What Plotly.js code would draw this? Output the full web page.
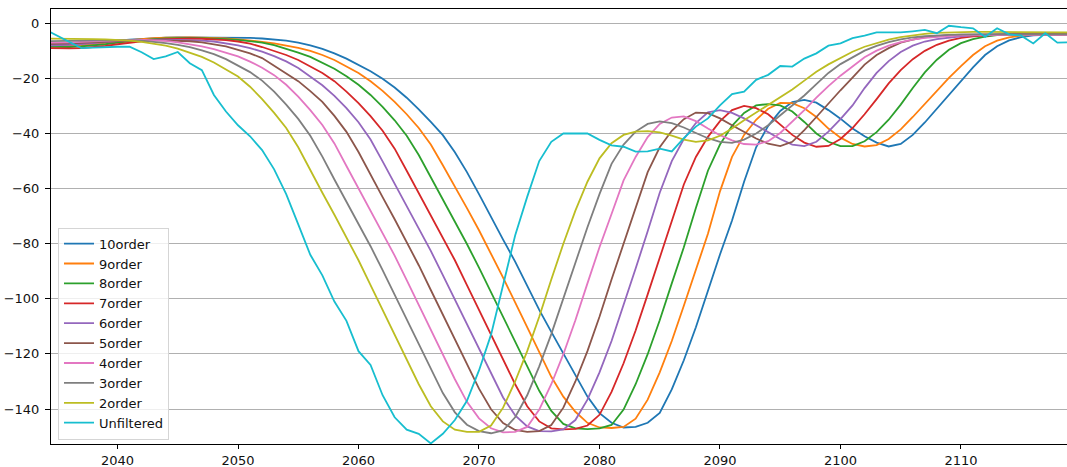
<!DOCTYPE html>
<html>
<head>
<meta charset="utf-8">
<script src="https://cdn.plot.ly/plotly-3.0.1.min.js"></script>
<style>html,body{margin:0;padding:0;background:#fff;}#chart{width:1067px;height:467px;}</style>
</head>
<body>
<div id="chart"></div>
<script>
const xs = [2034,2035,2036,2037,2038,2039,2040,2041,2042,2043,
2044,2045,2046,2047,2048,2049,2050,2051,2052,2053,
2054,2055,2056,2057,2058,2059,2060,2061,2062,2063,
2064,2065,2066,2067,2068,2069,2070,2071,2072,2073,
2074,2075,2076,2077,2078,2079,2080,2081,2082,2083,
2084,2085,2086,2087,2088,2089,2090,2091,2092,2093,
2094,2095,2096,2097,2098,2099,2100,2101,2102,2103,
2104,2105,2106,2107,2108,2109,2110,2111,2112,2113,
2114,2115,2116,2117,2118,2119];

const order10 = [-7.5,-7.6,-7.6,-7.4,-7.1,-6.7,-6.3,-5.9,-5.6,-5.4,
-5.2,-5.1,-5.1,-5.1,-5.1,-5.1,-5.2,-5.3,-5.5,-5.8,
-6.3,-7,-8,-9.3,-10.9,-12.8,-15,-17.4,-20.1,-23.3,
-27,-31.2,-35.8,-40.6,-46.8,-54,-62,-70.5,-78.5,-86.5,
-95.5,-104,-112,-120,-128,-135.5,-141.5,-145,-146.7,-146.5,
-145,-141.4,-132.9,-122.3,-110.3,-97.1,-83.9,-71.6,-57.5,-45,
-37.2,-31.8,-28.6,-27.8,-28.8,-31.5,-34.6,-38.2,-41,-43.3,
-44.7,-43.8,-40.5,-36,-31,-26.2,-21.2,-16,-11.5,-8.3,
-6.2,-5,-4.4,-4.1,-4,-4];

const order9 = [-8,-8.2,-8.2,-8,-7.6,-7.1,-6.6,-6.1,-5.7,-5.4,
-5.2,-5.1,-5.1,-5.2,-5.3,-5.5,-5.8,-6.2,-6.7,-7.3,
-8,-8.9,-10,-11.5,-13.3,-15.5,-18,-21,-24.5,-28.5,
-33,-38,-44,-51.5,-59.1,-67.1,-75.1,-83.5,-92.3,-101.3,
-110.3,-119.3,-128.3,-135.5,-141,-145,-146.7,-146.9,-146.5,-143.5,
-136.6,-126.7,-115.3,-102.5,-89.1,-76.4,-61,-48.5,-40.5,-35,
-31,-28.9,-29,-30.8,-34,-38.2,-41.5,-43.8,-44.7,-44.2,
-42,-38.5,-34,-29.3,-24.5,-19.8,-15.5,-11.5,-8.3,-6.3,
-5.1,-4.5,-4.2,-4.1,-4,-4];

const order8 = [-8.5,-8.6,-8.6,-8.4,-8.1,-7.6,-7,-6.5,-6,-5.7,
-5.5,-5.3,-5.3,-5.4,-5.5,-5.7,-6,-6.4,-7,-7.9,
-9.2,-10.6,-12.2,-14.2,-16.5,-19.2,-22.3,-26,-30.3,-35.2,
-40.8,-47.8,-55.9,-63.9,-71.9,-80.1,-88.7,-97.7,-106.7,-115.7,
-124.7,-133.4,-140.7,-145.4,-147,-147.3,-147,-145.8,-140.2,-131,
-120.1,-107.8,-94.4,-81.3,-67,-53.5,-44,-37.2,-32.5,-29.8,
-29.3,-29.8,-32,-35.8,-40,-43,-44.6,-44.6,-42.8,-39.5,
-35,-29.5,-23.5,-17.8,-13.2,-9.6,-7.2,-5.7,-4.8,-4.3,
-4.1,-4,-4,-4,-4,-4];

const order7 = [-9,-9.1,-9.1,-9,-8.7,-8.2,-7.6,-7,-6.4,-6,
-5.7,-5.5,-5.5,-5.6,-5.8,-6.1,-6.6,-7.4,-8.6,-10,
-11.5,-13.3,-15.5,-18,-21,-24.8,-29,-33.7,-39,-45.5,
-53.5,-61.5,-69.5,-77.5,-86,-95,-104,-113,-122,-131,
-139,-144.5,-147,-147.4,-147.2,-146,-142.1,-133.8,-123.4,-111.5,
-98.4,-85.2,-72.5,-58.5,-48.5,-41.2,-35.5,-31.5,-30,-30.8,
-33,-36.8,-40.5,-43.3,-44.8,-44.5,-42,-38,-33,-27.5,
-21.8,-17,-13,-10,-7.8,-6.3,-5.3,-4.7,-4.4,-4.2,
-4.1,-4.1,-4.1,-4.1,-4.1,-4.1];

const order6 = [-8,-8,-7.8,-7.5,-7.1,-6.7,-6.4,-6.1,-6,-5.9,
-5.9,-6,-6.1,-6.3,-6.6,-7.2,-8,-9,-10.3,-11.9,
-13.8,-16.2,-19.2,-22.5,-26.3,-30.8,-35.9,-42.2,-50.1,-58.3,
-66.3,-74.3,-82.6,-91.4,-100.4,-109.4,-118.4,-127.4,-135.8,-142.3,
-146.3,-148,-148.1,-147.4,-144,-136.6,-126.7,-115.3,-102.5,-89,
-75.5,-61.5,-50,-42,-36.2,-32.3,-31.5,-32.5,-34.5,-37,
-39.8,-42,-44,-44.6,-43,-39.3,-34.8,-29.8,-23.5,-18,
-13.7,-10.4,-8.1,-6.6,-5.7,-5.1,-4.7,-4.4,-4.2,-4.1,
-4,-4,-4,-4,-4,-4];

const order5 = [-7.5,-7.5,-7.3,-7.1,-6.9,-6.6,-6.4,-6.2,-6.1,-6.1,
-6.2,-6.3,-6.5,-6.9,-7.6,-8.4,-9.6,-10.9,-12.6,-15.3,
-18,-21,-24.6,-28.5,-33.6,-39.4,-46.7,-55.1,-63.1,-71.1,
-79.2,-87.8,-96.8,-105.8,-114.8,-123.8,-132.6,-140.1,-145.1,-147.6,
-148.3,-148,-145.8,-139.5,-130,-119,-106.5,-93,-80,-66.5,
-54,-45,-39,-34.8,-32.4,-32.6,-34.5,-37,-39.5,-41.8,
-43.7,-44.6,-43,-38.8,-34,-29,-24.3,-19.7,-15,-11.5,
-9,-7,-5.9,-5.1,-4.6,-4.3,-4.1,-4,-3.9,-3.9,
-3.9,-3.9,-3.9,-3.9,-3.9,-3.9];

const order4 = [-7,-7,-6.9,-6.7,-6.5,-6.3,-6.1,-6,-6,-6.1,
-6.4,-6.9,-7.6,-8.4,-9.4,-10.6,-12,-13.9,-16.1,-18.8,
-22.3,-26.6,-31.5,-36.9,-43.6,-51.8,-59.9,-67.9,-75.9,-84.3,
-93.2,-102.2,-111.2,-120.2,-129.2,-137.4,-143.4,-147,-148.5,-148.3,
-146.5,-140.2,-131,-120.1,-107.8,-94.4,-81.3,-69.2,-57,-48.5,
-41.3,-36.5,-34.2,-33.8,-35.5,-38.2,-40.6,-42.5,-43.8,-44,
-42.8,-39.8,-35.8,-31.5,-27,-22.8,-19,-15.5,-12.3,-9.9,
-8.1,-6.8,-5.9,-5.3,-4.9,-4.6,-4.4,-4.3,-4.2,-4.2,
-4.2,-4.2,-4.2,-4.2,-4.2,-4.2];

const order3 = [-6.5,-6.5,-6.4,-6.3,-6.2,-6.1,-6.1,-6.1,-6.3,-6.7,
-7.2,-7.8,-8.6,-9.8,-11.2,-13,-15.2,-17.7,-20.8,-24.8,
-29.5,-34.7,-40.8,-48.4,-56.7,-64.7,-72.7,-80.9,-89.6,-98.6,
-107.6,-116.6,-125.6,-134.2,-141.2,-145.7,-148,-148.8,-147.8,-143,
-135,-124.5,-112.8,-99.8,-86.5,-74,-62,-51,-44,-39.3,
-36.5,-35.6,-36.2,-37.8,-39.8,-41.7,-43,-43.4,-42.2,-40,
-37,-33.5,-30,-26.2,-22.1,-18,-14.8,-12.2,-9.9,-8.2,
-6.8,-5.8,-5.1,-4.7,-4.4,-4.2,-4.1,-4,-4,-4,
-4,-4,-4,-4,-4,-4];

const order2 = [-5.5,-5.5,-5.6,-5.6,-5.7,-5.8,-6,-6.3,-6.7,-7.3,
-8.1,-9.2,-10.6,-12.2,-14.2,-16.6,-19.3,-23,-27.5,-32.5,
-38,-45,-53.5,-61.5,-69.5,-77.5,-86,-95,-104,-113,
-122,-131,-139,-144.5,-147.5,-148.3,-148.3,-146,-139.5,-130,
-119,-106.5,-93,-80,-68,-57.5,-49,-43.5,-40.5,-39.3,
-39.1,-39.6,-40.8,-42.2,-43,-42.5,-40.8,-38.2,-35.2,-32.4,
-29.8,-27,-24,-20.8,-17.6,-14.9,-12.5,-10.3,-8.5,-7.1,
-5.9,-5,-4.3,-3.8,-3.5,-3.3,-3.2,-3.1,-3.1,-3.1,
-3.1,-3.1,-3.2,-3.2,-3.2,-3.3];

const unfiltered = [-2.3,-4.5,-6.8,-9,-8.8,-8.6,-8.5,-8.5,-10.5,-13,
-12,-10.4,-14.5,-17,-26,-32,-37,-41,-46,-53,
-62,-73,-84,-91.5,-101,-108,-119,-124,-135,-143,
-147.5,-149,-152.5,-149,-144,-137,-126,-113,-95,-77,
-63,-50,-43,-40,-40,-40,-42.3,-44.3,-44.8,-46.6,
-46.5,-45.5,-46.5,-41.7,-37.5,-34.5,-29.8,-25.7,-24.8,-20.5,
-18.7,-15.5,-15.7,-12.8,-10.9,-8.1,-7.3,-5.4,-4.5,-3.3,
-3.3,-3.3,-2.9,-2.4,-3.6,-0.9,-1.4,-1.8,-4.9,-1.8,
-4,-4.5,-7.3,-3.6,-7,-6.9];

const seriesNames = ['10order','9order','8order','7order','6order','5order','4order','3order','2order','Unfiltered'];
const seriesValues = [order10, order9, order8, order7, order6, order5, order4, order3, order2, unfiltered];
const seriesColors = ['#1f77b4','#ff7f0e','#2ca02c','#d62728','#9467bd','#8c564b','#e377c2','#7f7f7f','#bcbd22','#17becf'];

const xTicks = [2040,2050,2060,2070,2080,2090,2100,2110];
const yTicks = [0,-20,-40,-60,-80,-100,-120,-140];

const traces = seriesNames.map((name, i) => ({
  type: 'scatter', mode: 'lines', name: name, x: xs, y: seriesValues[i],
  legendgroup: 'g' + i,
  line: {color: seriesColors[i], width: 1.8},
  hoverinfo: 'skip'
}));

const font = {family: 'DejaVu Sans, sans-serif', size: 13, color: '#111'};

const layout = {
  width: 1067, height: 467,
  margin: {l: 51, r: 0, t: 9, b: 23, pad: 0},
  paper_bgcolor: '#fff', plot_bgcolor: '#fff',
  font: font,
  showlegend: true,
  xaxis: {
    range: [2034.48, 2118.8], tickvals: xTicks, ticktext: xTicks.map(String),
    ticks: 'outside', ticklen: 4, tickwidth: 1, tickcolor: '#000',
    showline: true, linecolor: '#000', linewidth: 1, mirror: true,
    showgrid: false, zeroline: false, tickfont: font
  },
  yaxis: {
    range: [-152.7, 5.2], tickvals: yTicks, ticktext: yTicks.map(v => v < 0 ? '\u2212' + Math.abs(v) : String(v)),
    ticks: 'outside', ticklen: 5, tickwidth: 1, tickcolor: '#000',
    showline: true, linecolor: '#000', linewidth: 1,
    showgrid: true, gridcolor: '#b0b0b0', gridwidth: 1,
    zeroline: false, tickfont: font, ticklabelstandoff: 3
  },
  legend: {
    x: 0.0069, y: 0.01, xanchor: 'left', yanchor: 'bottom',
    bgcolor: 'rgba(255,255,255,0.8)', bordercolor: '#d5d5d5', borderwidth: 1,
    font: font, tracegroupgap: 0, traceorder: 'normal'
  }
};

Plotly.newPlot('chart', traces, layout, {staticPlot: true, displayModeBar: false});
</script>
</body>
</html>
